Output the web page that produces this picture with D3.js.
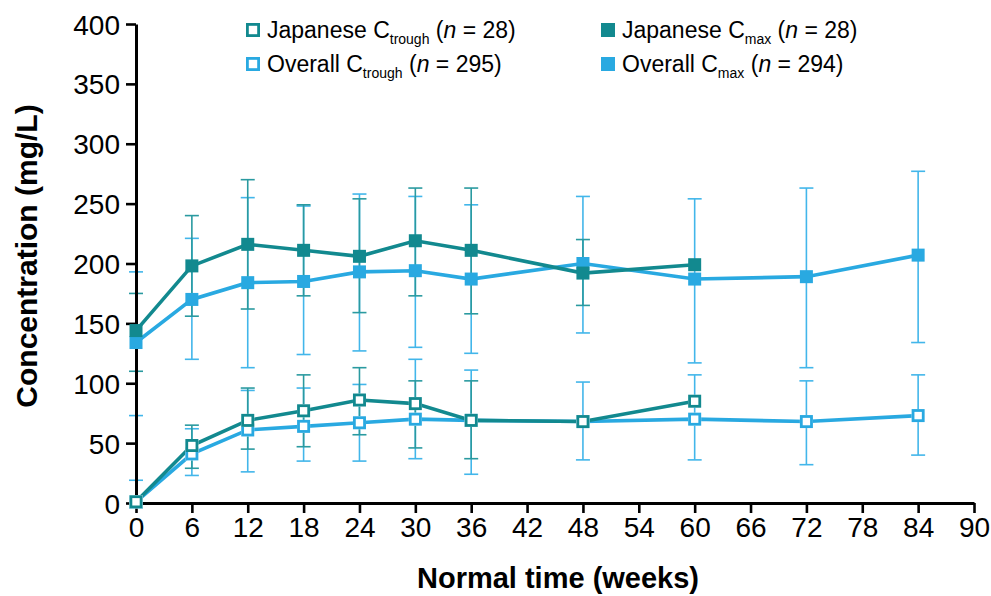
<!DOCTYPE html>
<html>
<head>
<meta charset="utf-8">
<script src="https://cdn.jsdelivr.net/npm/d3@7"></script>
<style>
  html, body { margin: 0; padding: 0; background: #fff; }
  svg { display: block; font-family: 'Liberation Sans', Arial, sans-serif; }
</style>
</head>
<body>
<div id="chart"></div>
<script>
// weeks
const weeksJpn = [0, 6, 12, 18, 24, 30, 36, 48, 60];
const weeksAll = [0, 6, 12, 18, 24, 30, 36, 48, 60, 72, 84];

// Japanese Cmax (mean, lower, upper)
const jpnCmax   = [144, 198, 216, 211, 206, 219, 211, 192, 199];
const jpnCmaxLo = [110, 156, 162, 173, 159, 173, 158, 165, null];
const jpnCmaxHi = [175, 240, 270, 249, 254, 263, 263, 220, null];

// Overall Cmax
const allCmax   = [134, 170, 184, 185, 193, 194, 187, 200, 187, 189, 207];
const allCmaxLo = [73, 120, 113, 124, 127, 130, 125, 142, 117, 113, 134];
const allCmaxHi = [193, 221, 255, 248, 258, 256, 249, 256, 254, 263, 277];

// Japanese Ctrough
const jpnTrough   = [1, 48, 69, 77, 86, 83, 69, 68, 85];
const jpnTroughLo = [null, 29, 45, 47, 57, 46, 37, null, null];
const jpnTroughHi = [null, 65, 96, 107, 113, 102, 102, null, null];

// Overall Ctrough
const allTrough   = [1, 41, 61, 64, 67, 70, 69, 68, 70, 68, 73];
const allTroughLo = [-4, 23, 26, 35, 35, 37, 24, 36, 36, 32, 40];
const allTroughHi = [19, 62, 94, 96, 99, 120, 111, 101, 107, 102, 107];

const xTicks = d3.range(0, 91, 6);
const yTicks = d3.range(0, 401, 50);

const TEAL = '#12898f', BLUE = '#29a9e1';
const TEAL_EB = '#2a9aa0', BLUE_EB = '#42b6ea';

const W = 991, H = 596;
const svg = d3.select('#chart').append('svg').attr('width', W).attr('height', H);

const x = d3.scaleLinear().domain([0, 90]).range([136, 974]);
const y = d3.scaleLinear().domain([0, 400]).range([503, 24]);

const mk = (weeks, mean, lo, hi) => weeks.map((w, i) => ({ w, v: mean[i], lo: lo[i], hi: hi[i] }));
const series = [
  { name: 'allTrough', data: mk(weeksAll, allTrough, allTroughLo, allTroughHi), color: BLUE, eb: BLUE_EB, hollow: true },
  { name: 'allCmax', data: mk(weeksAll, allCmax, allCmaxLo, allCmaxHi), color: BLUE, eb: BLUE_EB, hollow: false },
  { name: 'jpnTrough', data: mk(weeksJpn, jpnTrough, jpnTroughLo, jpnTroughHi), color: TEAL, eb: TEAL_EB, hollow: true },
  { name: 'jpnCmax', data: mk(weeksJpn, jpnCmax, jpnCmaxLo, jpnCmaxHi), color: TEAL, eb: TEAL_EB, hollow: false },
];

// error bars
const CAP = 7;
series.forEach(s => {
  const g = svg.append('g').attr('stroke', s.eb).attr('stroke-width', 1.6).attr('fill', 'none');
  s.data.filter(d => d.lo != null).forEach(d => {
    const cx = x(d.w);
    g.append('line').attr('x1', cx).attr('x2', cx).attr('y1', y(d.lo)).attr('y2', y(d.hi));
    g.append('line').attr('x1', cx - CAP).attr('x2', cx + CAP).attr('y1', y(d.lo)).attr('y2', y(d.lo));
    g.append('line').attr('x1', cx - CAP).attr('x2', cx + CAP).attr('y1', y(d.hi)).attr('y2', y(d.hi));
  });
});

// axes
const axisG = svg.append('g');
const xAxis = axisG.append('g').attr('transform', `translate(0,${y(0)})`)
  .call(d3.axisBottom(x).tickValues(xTicks).tickSize(10).tickPadding(3).tickSizeOuter(0));
const yAxis = axisG.append('g').attr('transform', `translate(${x(0)},0)`)
  .call(d3.axisLeft(y).tickValues(yTicks).tickSize(10).tickPadding(6).tickSizeOuter(0));
[xAxis, yAxis].forEach(a => {
  a.select('.domain').attr('stroke', '#000').attr('stroke-width', 3);
  a.selectAll('.tick line').attr('stroke', '#000').attr('stroke-width', 2.6);
  a.selectAll('.tick text').attr('fill', '#000').attr('font-size', 28)
    .attr('font-family', "'Liberation Sans', Arial, sans-serif");
});
yAxis.selectAll('.tick text').attr('dy', '0.36em');
xAxis.selectAll('.tick text').attr('dy', '0.74em');

// lines + markers
const line = d3.line().x(d => x(d.w)).y(d => y(d.v));
series.forEach(s => {
  svg.append('path').datum(s.data).attr('d', line)
    .attr('fill', 'none').attr('stroke', s.color).attr('stroke-width', 3.6);
});
const SQ = 13;
series.forEach(s => {
  svg.append('g').selectAll('rect').data(s.data).enter().append('rect')
    .attr('x', d => x(d.w) - SQ / 2).attr('y', d => y(d.v) - SQ / 2)
    .attr('width', SQ).attr('height', SQ)
    .attr('fill', s.hollow ? '#fff' : s.color);
  if (s.hollow) {
    svg.selectAll(null).data(s.data).enter().append('rect')
      .attr('x', d => x(d.w) - SQ / 2 + 1.4).attr('y', d => y(d.v) - SQ / 2 + 1.4)
      .attr('width', SQ - 2.8).attr('height', SQ - 2.8)
      .attr('fill', 'none').attr('stroke', s.color).attr('stroke-width', 2.8);
  }
});

// axis titles
svg.append('text').attr('x', 558).attr('y', 588).attr('text-anchor', 'middle')
  .attr('font-size', 29).attr('font-weight', 'bold').text('Normal time (weeks)');
svg.append('text').attr('transform', 'translate(37,256) rotate(-90)').attr('text-anchor', 'middle')
  .attr('font-size', 30).attr('font-weight', 'bold').text('Concentration (mg/L)');

// legend
const legend = [
  { label: 'Japanese C', sub: 'trough', n: '28', color: TEAL, hollow: true, lx: 246, ly: 38 },
  { label: 'Overall C', sub: 'trough', n: '295', color: BLUE, hollow: true, lx: 246, ly: 72 },
  { label: 'Japanese C', sub: 'max', n: '28', color: TEAL, hollow: false, lx: 601, ly: 38 },
  { label: 'Overall C', sub: 'max', n: '294', color: BLUE, hollow: false, lx: 601, ly: 72 },
];
const LS = 14;
legend.forEach(l => {
  const g = svg.append('g');
  if (l.hollow) {
    g.append('rect').attr('x', l.lx + 1.4).attr('y', l.ly - 15 + 1.4).attr('width', LS - 2.8).attr('height', LS - 2.8)
      .attr('fill', '#fff').attr('stroke', l.color).attr('stroke-width', 2.8);
  } else {
    g.append('rect').attr('x', l.lx).attr('y', l.ly - 15).attr('width', LS).attr('height', LS).attr('fill', l.color);
  }
  const t = g.append('text').attr('x', l.lx + 21).attr('y', l.ly).attr('font-size', 23).attr('fill', '#000');
  t.append('tspan').text(l.label);
  t.append('tspan').attr('font-size', 14).attr('dy', 6).text(l.sub);
  t.append('tspan').attr('dy', -6).text(' (');
  t.append('tspan').attr('font-style', 'italic').text('n');
  t.append('tspan').text(` = ${l.n})`);
});
</script>
</body>
</html>
